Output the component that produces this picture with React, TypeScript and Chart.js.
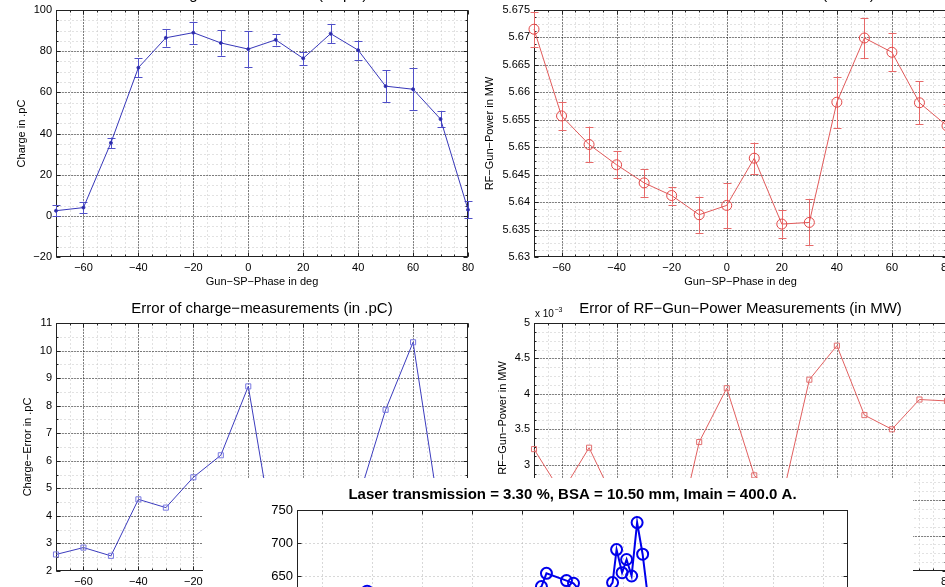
import React, { useEffect, useRef } from "react";
import { Chart, registerables } from "chart.js";

Chart.register(...registerables);
Chart.defaults.font.family = "'Liberation Sans', Arial, Helvetica, sans-serif";
Chart.defaults.color = "#000";

// ---------------- data ----------------
const phase = [-70, -60, -50, -40, -30, -20, -10, 0, 10, 20, 30, 40, 50, 60, 70, 80];
const charge = [2.5, 4, 35.5, 72, 86.5, 89, 84, 81, 85.5, 76.5, 88.5, 80.5, 63, 61.5, 47, 3];
const chargeErr = [2.6, 2.85, 2.55, 4.6, 4.3, 5.4, 6.2, 8.7, 2.8, 3.3, 4.7, 4.6, 7.85, 10.3, 3.8, 4.0];
const rfPower = [5.6715, 5.6557, 5.6505, 5.6468, 5.6435, 5.6412, 5.6377, 5.6394, 5.648, 5.636, 5.6363, 5.6582, 5.6699, 5.6673, 5.6581, 5.6539];
const rfPowerErr = [3.22, 2.6, 3.24, 2.43, 2.55, 1.64, 3.32, 4.08, 2.85, 2.5, 4.2, 4.68, 3.7, 3.5, 3.92, 3.9]; // x 10^-3 MW

const scanX = [0.9, 1.7, 2.6, 3.4, 4.0, 4.38, 4.48, 4.88, 5.02, 5.35, 5.6, 5.8, 5.88, 5.99, 6.08, 6.18, 6.29, 6.4, 6.55, 7.2, 8.0];
const scanY = [627, 595, 605, 600, 612, 634, 654, 643, 639, 610, 618, 640, 690, 655, 675, 650, 731, 683, 590, 560, 545];

// ---------------- ticks ----------------
const phaseTicks = [-60, -40, -20, 0, 20, 40, 60, 80];
const chargeTicks = [-20, 0, 20, 40, 60, 80, 100];
const powerTicks = [5.63, 5.635, 5.64, 5.645, 5.65, 5.655, 5.66, 5.665, 5.67, 5.675];
const chargeErrTicks = [2, 3, 4, 5, 6, 7, 8, 9, 10, 11];
const powerErrTicks = [1.5, 2, 2.5, 3, 3.5, 4, 4.5, 5];
const scanXTicks = [0, 1, 2, 3, 4, 5, 6, 7, 8, 9, 10];
const scanYTicks = [500, 550, 600, 650, 700, 750];

const M = "\u2212";
const FONT = "'Liberation Sans', Arial, sans-serif";
const fmt = (v: number) => String(parseFloat(Number(v).toFixed(5))).replace("-", M);

function steps(min: number, max: number, step: number) {
  const n = Math.round((max - min) / step);
  const out: number[] = [];
  for (let i = 0; i <= n; i++) out.push(min + i * step);
  return out;
}

function axesPlugin(o: any) {
  return {
    id: "matlabAxes",
    beforeDatasetsDraw(chart: any) {
      const { ctx, chartArea: a } = chart;
      const xs = chart.scales.x, ys = chart.scales.y;
      const X = (v: number) => Math.round(xs.getPixelForValue(v)) + 0.5;
      const Y = (v: number) => Math.round(ys.getPixelForValue(v)) + 0.5;
      const L = a.left + 0.5, R = a.right - 0.5, T = a.top + 0.5, B = a.bottom - 0.5;
      const xMin = o.xMinor ? steps(xs.min, xs.max, o.xMinor) : [];
      const yMin = o.yMinor ? steps(ys.min, ys.max, o.yMinor) : [];
      ctx.save();
      ctx.lineWidth = 1;
      // minor grid
      ctx.strokeStyle = o.minorColor || "#c4c4c4";
      ctx.setLineDash([1, 3]);
      ctx.beginPath();
      xMin.forEach((v) => { const p = X(v); if (p <= L + 1 || p >= R - 1) return; ctx.moveTo(p, T); ctx.lineTo(p, B); });
      yMin.forEach((v) => { const p = Y(v); if (p <= T + 1 || p >= B - 1) return; ctx.moveTo(L, p); ctx.lineTo(R, p); });
      ctx.stroke();
      // major grid
      ctx.strokeStyle = o.majorColor || "#111";
      ctx.setLineDash(o.majorDash || [1, 2]);
      ctx.beginPath();
      o.xTicks.forEach((v: number) => { const p = X(v); if (p <= L + 1 || p >= R - 1) return; ctx.moveTo(p, T); ctx.lineTo(p, B); });
      o.yTicks.forEach((v: number) => { const p = Y(v); if (p <= T + 1 || p >= B - 1) return; ctx.moveTo(L, p); ctx.lineTo(R, p); });
      ctx.stroke();
      // inner tick marks
      ctx.setLineDash([]);
      ctx.strokeStyle = "#222";
      ctx.beginPath();
      const tx = (v: number, len: number) => { const p = X(v); ctx.moveTo(p, B); ctx.lineTo(p, B - len); ctx.moveTo(p, T); ctx.lineTo(p, T + len); };
      const ty = (v: number, len: number) => { const p = Y(v); ctx.moveTo(L, p); ctx.lineTo(L + len, p); ctx.moveTo(R, p); ctx.lineTo(R - len, p); };
      xMin.forEach((v) => tx(v, 2));
      yMin.forEach((v) => ty(v, 2));
      o.xTicks.forEach((v: number) => tx(v, 4));
      o.yTicks.forEach((v: number) => ty(v, 4));
      ctx.stroke();
      ctx.strokeStyle = "#222";
      ctx.strokeRect(L, T, R - L, B - T);
      ctx.restore();
    },
  };
}

function errPlugin(xv: number[], yv: number[], ev: number[], color: string, cap: number) {
  return {
    id: "errBars",
    beforeDatasetsDraw(chart: any) {
      const { ctx } = chart;
      const xs = chart.scales.x, ys = chart.scales.y;
      ctx.save();
      ctx.strokeStyle = color;
      ctx.lineWidth = 1;
      ctx.setLineDash([]);
      ctx.beginPath();
      xv.forEach((x, i) => {
        const px = Math.round(xs.getPixelForValue(x)) + 0.5;
        const y1 = ys.getPixelForValue(yv[i] - ev[i]);
        const y2 = ys.getPixelForValue(yv[i] + ev[i]);
        ctx.moveTo(px, y1); ctx.lineTo(px, y2);
        ctx.moveTo(px - cap, Math.round(y1) + 0.5); ctx.lineTo(px + cap, Math.round(y1) + 0.5);
        ctx.moveTo(px - cap, Math.round(y2) + 0.5); ctx.lineTo(px + cap, Math.round(y2) + 0.5);
      });
      ctx.stroke();
      ctx.restore();
    },
  };
}

const exponentPlugin = {
  id: "exponentLabel",
  afterDraw(chart: any) {
    const { ctx, chartArea: a } = chart;
    ctx.save();
    ctx.fillStyle = "#000";
    ctx.textBaseline = "alphabetic";
    ctx.font = `10px ${FONT}`;
    const s = "x 10";
    ctx.fillText(s, a.left + 1, a.top - 6);
    const w = ctx.measureText(s).width;
    ctx.font = `7px ${FONT}`;
    ctx.fillText(M + "3", a.left + 1 + w + 0.5, a.top - 11);
    ctx.restore();
  },
};

function sideLabelPlugin(text: string, x: number, y: number) {
  return {
    id: "sideLabel",
    afterDraw(chart: any) {
      const { ctx } = chart;
      ctx.save();
      ctx.fillStyle = "#000";
      ctx.font = `11px ${FONT}`;
      ctx.textAlign = "center";
      ctx.textBaseline = "middle";
      ctx.translate(x, y);
      ctx.rotate(-Math.PI / 2);
      ctx.fillText(text, 0, 0);
      ctx.restore();
    },
  };
}

function makeConfig(o: any) {
  const plugins: any[] = [axesPlugin(o)];
  if (o.err) plugins.push(errPlugin(o.xs, o.ys, o.err, o.errColor, o.cap || 4));
  if (o.exponent) plugins.push(exponentPlugin);
  if (o.sideLabel) plugins.push(sideLabelPlugin(o.sideLabel.text, o.sideLabel.x, o.sideLabel.y));
  return {
    type: "line",
    data: {
      datasets: [
        {
          data: o.xs.map((x: number, i: number) => ({ x, y: o.ys[i] })),
          borderColor: o.color,
          borderWidth: o.lineWidth || 1,
          pointStyle: o.pointStyle,
          pointRadius: o.pointRadius,
          pointBorderColor: o.pointColor || o.color,
          pointBackgroundColor: o.pointFill || "transparent",
          pointBorderWidth: o.pointBorderWidth || 1,
          tension: 0,
          clip: 8,
        },
      ],
    },
    options: {
      responsive: false,
      animation: false,
      devicePixelRatio: 1,
      events: [],
      layout: { padding: { left: 0, top: 0, right: o.padRight, bottom: o.padBottom } },
      plugins: {
        legend: { display: false },
        tooltip: { enabled: false },
        title: {
          display: true,
          text: o.title,
          fullSize: false,
          color: "#000",
          font: { size: 15, weight: o.titleBold ? "bold" : "normal", lineHeight: 1.2 },
          padding: { top: o.titlePad[0], bottom: o.titlePad[1] },
        },
      },
      scales: {
        x: {
          type: "linear",
          min: o.xMinV,
          max: o.xMaxV,
          afterBuildTicks: (s: any) => { s.ticks = o.xTicks.map((v: number) => ({ value: v })); },
          afterFit: (s: any) => { s.height = o.xAxisH; },
          grid: { display: false, drawTicks: false },
          border: { display: false },
          ticks: { autoSkip: false, maxRotation: 0, padding: 4, font: { size: o.tickSize || 11 }, color: "#000", callback: (v: any) => fmt(v) },
          title: o.xTitle
            ? { display: true, text: o.xTitle, color: "#000", font: { size: 11, lineHeight: 1.2 }, padding: { top: 0, bottom: 0 } }
            : { display: false },
        },
        y: {
          type: "linear",
          min: o.yMinV,
          max: o.yMaxV,
          afterBuildTicks: (s: any) => { s.ticks = o.yTicks.map((v: number) => ({ value: v })); },
          afterFit: (s: any) => { s.width = o.yAxisW; },
          grid: { display: false, drawTicks: false },
          border: { display: false },
          ticks: { autoSkip: false, padding: o.yTickPad || 4, font: { size: o.tickSize || 11 }, color: "#000", callback: (v: any) => fmt(v) },
          title: o.yTitle
            ? { display: true, text: o.yTitle, color: "#000", font: { size: 11, lineHeight: 1.2 }, padding: { top: o.yTitlePad, bottom: 0 } }
            : { display: false },
        },
      },
    },
    plugins,
  };
}

const PHASE_LABEL = `Gun${M}SP${M}Phase in deg`;

const specs = [
  {
    key: "charge", left: 0, top: -30, width: 480, height: 330, bg: "transparent",
    cfg: {
      xs: phase, ys: charge, err: chargeErr, errColor: "rgb(80,80,200)", cap: 4,
      xMinV: -70, xMaxV: 80, yMinV: -20, yMaxV: 100, xTicks: phaseTicks, yTicks: chargeTicks, xMinor: 5, yMinor: 5,
      title: `Charge${M}measurements (in .pC)`, titlePad: [16, 6], xTitle: PHASE_LABEL, yTitle: "Charge in .pC", yTitlePad: 15,
      yAxisW: 56, xAxisH: 32, padRight: 12, padBottom: 11,
      color: "rgb(55,55,185)", pointStyle: "circle", pointRadius: 1.5, pointFill: "rgb(40,40,160)",
    },
  },
  {
    key: "power", left: 480, top: -30, width: 480, height: 330, bg: "transparent",
    cfg: {
      xs: phase, ys: rfPower, err: rfPowerErr.map((e) => e / 1000), errColor: "rgb(230,105,105)", cap: 4,
      xMinV: -70, xMaxV: 80, yMinV: 5.63, yMaxV: 5.675, xTicks: phaseTicks, yTicks: powerTicks, xMinor: 5, yMinor: 0.00125,
      title: `RF${M}Gun${M}Power Measurements (in MW)`, titlePad: [16, 6], xTitle: PHASE_LABEL, yTitle: `RF${M}Gun${M}Power in MW`, yTitlePad: 3.4,
      yAxisW: 54, xAxisH: 32, padRight: 13, padBottom: 11,
      color: "rgb(225,90,90)", pointStyle: "circle", pointRadius: 5, pointColor: "rgb(225,70,70)",
    },
  },
  {
    key: "chargeErr", left: 0, top: 290, width: 480, height: 330, bg: "transparent",
    cfg: {
      xs: phase, ys: chargeErr,
      xMinV: -70, xMaxV: 80, yMinV: 2, yMaxV: 11, xTicks: phaseTicks, yTicks: chargeErrTicks, xMinor: 5, yMinor: 0.5,
      title: `Error of charge${M}measurements (in .pC)`, titlePad: [10, 5], xTitle: PHASE_LABEL, yTitle: `Charge${M}Error in .pC`, yTitlePad: 21.4,
      yAxisW: 56, xAxisH: 32, padRight: 12, padBottom: 17,
      color: "rgb(60,60,190)", pointStyle: "rect", pointRadius: 3.6, pointColor: "rgb(120,120,225)",
    },
  },
  {
    key: "powerErr", left: 480, top: 290, width: 480, height: 330, bg: "transparent",
    cfg: {
      xs: phase, ys: rfPowerErr, exponent: true,
      sideLabel: { text: `RF${M}Gun${M}Power in MW`, x: 23, y: 128 },
      xMinV: -70, xMaxV: 80, yMinV: 1.5, yMaxV: 5, xTicks: phaseTicks, yTicks: powerErrTicks, xMinor: 5, yMinor: 0.125,
      title: `Error of RF${M}Gun${M}Power Measurements (in MW)`, titlePad: [10, 5], xTitle: PHASE_LABEL,
      yAxisW: 54, xAxisH: 32, padRight: 13, padBottom: 17,
      color: "rgb(225,95,95)", pointStyle: "rect", pointRadius: 3.6, pointColor: "rgb(225,110,110)",
    },
  },
  {
    key: "scan", left: 203, top: 478, width: 710, height: 330, bg: "#ffffff",
    cfg: {
      xs: scanX, ys: scanY,
      xMinV: -0.5, xMaxV: 10.5, yMinV: 500, yMaxV: 750, xTicks: scanXTicks, yTicks: scanYTicks, xMinor: 0, yMinor: 0,
      majorColor: "#b0b0b0", majorDash: [1, 3],
      title: "Laser transmission = 3.30 %, BSA = 10.50 mm, Imain = 400.0 A.", titleBold: true, titlePad: [7.5, 6.5],
      yAxisW: 94, yTickPad: 4, tickSize: 13, xAxisH: 40, padRight: 65, padBottom: 93,
      color: "rgb(0,0,235)", lineWidth: 2, pointStyle: "circle", pointRadius: 5.5, pointBorderWidth: 2,
    },
  },
];

function ChartBox({ spec }: { spec: any }) {
  const ref = useRef<HTMLCanvasElement | null>(null);
  useEffect(() => {
    if (!ref.current) return;
    const chart = new Chart(ref.current, makeConfig(spec.cfg) as any);
    return () => chart.destroy();
  }, [spec]);
  return (
    <canvas
      ref={ref}
      width={spec.width}
      height={spec.height}
      style={{ position: "absolute", left: spec.left, top: spec.top, width: spec.width, height: spec.height, background: spec.bg }}
    />
  );
}

export default function App() {
  return (
    <div style={{ position: "fixed", left: 0, top: 0, width: 945, height: 587, overflow: "hidden", background: "#fff" }}>
      {specs.map((s) => (
        <ChartBox key={s.key} spec={s} />
      ))}
    </div>
  );
}
